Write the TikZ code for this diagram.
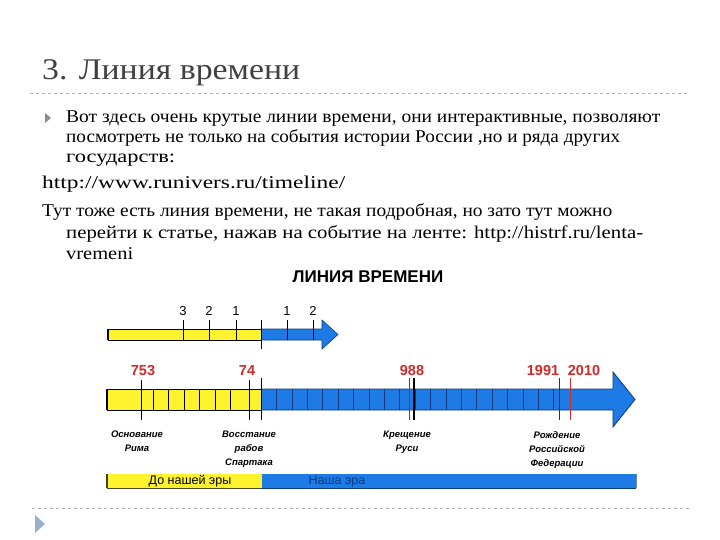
\documentclass[tikz,border=0pt]{standalone}
\usepackage{fontspec}
\usepackage{graphicx}
\setmainfont{Liberation Serif}
\newfontfamily\arialf{Liberation Sans}
\definecolor{tlyellow}{HTML}{FFF22E}
\definecolor{tlblue}{HTML}{1E7BE6}
\definecolor{tlnavy}{HTML}{0E3A80}
\definecolor{tlred}{HTML}{D02A2A}
\definecolor{titlegrey}{HTML}{404040}
\definecolor{bulletgrey}{HTML}{8C8C8C}
\definecolor{bulletblue}{HTML}{9BB0CC}
\newcommand{\fitw}[2]{\resizebox{#1}{\height}{#2}}
\tikzset{
  bodytext/.style={anchor=base west, inner sep=0pt, font=\fontsize{18}{20}\selectfont},
  rednum/.style={inner sep=0pt, text=tlred, font=\arialf\bfseries\fontsize{14.5}{14}\selectfont},
  toplab/.style={inner sep=0pt, font=\arialf\fontsize{13}{13}\selectfont},
  evlab/.style={anchor=north, inner sep=0pt, align=center, font=\arialf\bfseries\itshape\fontsize{9.5}{14}\selectfont},
  barlab/.style={inner sep=0pt, font=\arialf\fontsize{12.5}{12}\selectfont},
  tick/.style={line width=0.9pt, black},
  divline/.style={line width=0.6pt},
  dashsep/.style={dashed, gray!60, line width=0.6pt}
}
\begin{document}
\begin{tikzpicture}[x=1pt,y=-1pt]
\useasboundingbox (0,0) rectangle (720,540);
\fill[white] (0,0) rectangle (720,540);

% title
\node[anchor=base west, inner sep=0pt, text=titlegrey, font=\fontsize{30}{30}\selectfont] (title) at (42,80) {\fitw{258pt}{3. Линия времени}};
\draw[dashsep] (30,93) -- (690,93);

% bullet
\fill[bulletgrey] (45,113) -- (51,118) -- (45,123) -- cycle;
\node[bodytext] (l1) at (66,123) {\fitw{594pt}{Вот здесь очень крутые линии времени, они интерактивные, позволяют}};
\node[bodytext] (l2) at (66,143) {\fitw{554pt}{посмотреть не только на события истории России ,но и ряда других}};
\node[bodytext] (l3) at (66,163) {\fitw{109pt}{государств:}};
\node[bodytext] (l4) at (42,189) {\fitw{303pt}{http://www.runivers.ru/timeline/}};
\node[bodytext] (l5) at (42,217) {\fitw{570pt}{Тут тоже есть линия времени, не такая подробная, но зато тут можно}};
\node[bodytext] (l6) at (66,238) {\fitw{577pt}{перейти к статье, нажав на событие на ленте: http://histrf.ru/lenta-}};
\node[bodytext] (l7) at (66,259) {\fitw{67pt}{vremeni}};

% figure title
\node[inner sep=0pt, font=\arialf\bfseries\fontsize{17}{17}\selectfont] (ftitle) at (368,277) {ЛИНИЯ ВРЕМЕНИ};

% top small arrow
\path[draw=tlnavy, fill=tlblue, line width=0.6pt] (261,329) -- (322,329) -- (322,320) -- (338,334.5) -- (322,349) -- (322,340) -- (261,340) -- cycle;
\draw[fill=tlyellow, line width=0.6pt] (108,329) rectangle (261,340);
\draw[line width=1.4pt] (108,329) -- (108,340);
\foreach \x/\t in {183/3,209/2,236/1,287/1,313/2}{
  \draw[tick] (\x,320) -- (\x,340);
  \node[toplab] at (\x,311) {\t};
}
\draw[tick] (261,320) -- (261,349);

% main arrow
\path[draw=tlnavy, fill=tlblue, line width=0.8pt] (261,389) -- (613,389) -- (613,372) -- (635,399.5) -- (613,427) -- (613,410) -- (261,410) -- cycle;
\draw[fill=tlyellow, line width=0.8pt] (107,389) rectangle (261,410);
\draw[line width=1.6pt] (107,389) -- (107,410);
\foreach \k in {1,...,19}{
  \draw[divline, tlnavy] ({261+15.4*\k},389) -- ({261+15.4*\k},410);
}
\foreach \k in {2,...,7}{
  \draw[divline, black] ({261-15.4*\k},389) -- ({261-15.4*\k},410);
}
\draw[tick] (261,378) -- (261,420);
\draw[tick] (141,380) -- (141,420);
\draw[tick] (249,380) -- (249,420);
\draw[line width=0.6pt, black!70] (409,378) -- (409,420);
\draw[tick, line width=1.2pt] (414,378) -- (414,420);
\draw[line width=0.7pt, black!80] (559,378) -- (559,420);
\draw[line width=0.9pt, tlred] (570,378) -- (570,420);

\node[rednum] (n753) at (143,371) {753};
\node[rednum] (n74) at (247,371) {74};
\node[rednum] (n988) at (412,371) {988};
\node[rednum] (n1991) at (543,371) {1991};
\node[rednum] (n2010) at (584,371) {2010};

\node[evlab] (e1) at (137,431) {Основание\\Рима};
\node[evlab] (e2) at (249,431) {Восстание\\рабов\\Спартака};
\node[evlab] (e3) at (407,431) {Крещение\\Руси};
\node[evlab] (e4) at (557,431) {Рождение\\Российской\\Федерации};

% era bar
\fill[tlblue] (262,474) rectangle (636,488);
\draw[tlnavy, line width=1pt] (262,488) -- (636,488);
\draw[tlnavy!60, line width=0.8pt] (636,474) -- (636,488);
\fill[tlyellow] (107,474) rectangle (262,488);
\draw[black!60!olive, line width=1pt] (107,488) -- (262,488);
\draw[black!70!olive, line width=1.5pt] (107,474) -- (107,488);
\node[barlab] (era1) at (190,481) {До нашей эры};
\node[barlab, text=tlnavy] (era2) at (337,481) {Наша эра};

% bottom separator
\draw[dashsep] (32,508) -- (690,508);
\fill[bulletblue] (35,515) -- (45,524) -- (35,533) -- cycle;
\end{tikzpicture}
\end{document}
